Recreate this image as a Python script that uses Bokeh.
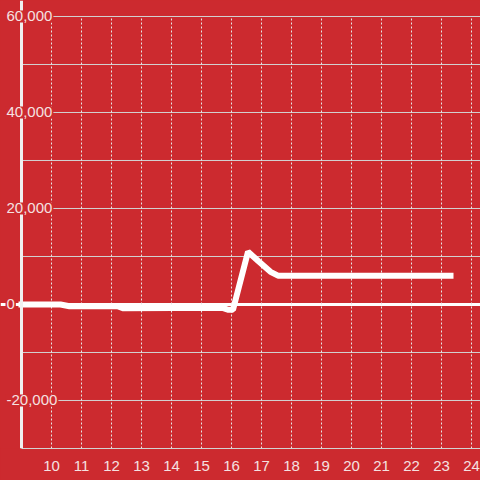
from bokeh.plotting import figure
from bokeh.models import Range1d, FixedTicker, Span, ColumnDataSource
from bokeh.core.properties import value
from bokeh.embed import file_html
from bokeh.resources import INLINE

# ---- data ----
times = [9.0, 10.3, 10.6, 12.2, 12.4, 15.7, 15.9, 16.05, 16.55, 16.9, 17.3, 17.55, 23.3]
values = [0, 0, -350, -350, -800, -700, -1100, -1100, 11000, 9000, 6800, 6000, 6000]
x_ticks = list(range(10, 25))
y_label_ticks = [60000, 40000, 20000, 0, -20000]
y_grid_ticks = [60000, 50000, 40000, 30000, 20000, 10000, -10000, -20000]
y_labels = [f"{v:,}" for v in y_label_ticks]

# ---- style ----
RED = "#cc2a2f"
TXT = "#f5e1e1"
GRID = "#d2d2d2"
FONT = "Liberation Sans"
X0, X1 = 8.3, 24.3
Y0, Y1 = -30000, 63333.3

p = figure(width=480, height=480, output_backend="svg", toolbar_location=None,
           x_range=Range1d(X0, X1), y_range=Range1d(Y0, Y1),
           y_axis_location=None, min_border_left=0, min_border_right=0,
           min_border_top=0, min_border_bottom=32)
p.background_fill_color = RED
p.border_fill_color = RED
p.outline_line_color = None
p.xgrid.visible = False
p.ygrid.visible = False

# horizontal grid lines, from the y axis to the right edge
p.segment(x0=[times[0]] * len(y_grid_ticks), x1=[X1] * len(y_grid_ticks),
          y0=y_grid_ticks, y1=y_grid_ticks, line_color=GRID, line_width=1)
# vertical dotted grid lines
p.segment(x0=x_ticks, x1=x_ticks, y0=[Y0] * len(x_ticks), y1=[max(y_grid_ticks)] * len(x_ticks),
          line_color="#e6e6e6", line_width=1, line_dash="2 2")

# zero line
p.add_layout(Span(location=0, dimension="width", line_color="white", line_width=3, level="underlay"))

# data line
p.line(times, values, line_color="white", line_width=6, line_cap="square")

# y axis line
p.add_layout(Span(location=times[0], dimension="height", line_color="#f0f0f0", line_width=3))

# y labels with red background
src = ColumnDataSource(dict(x=[X0] * len(y_label_ticks), y=y_label_ticks, t=y_labels))
p.text(x="x", y="y", text="t", source=src, x_offset=5, text_align="left",
       text_baseline="middle", text_color=TXT, text_font=value(FONT),
       text_font_size="15px", background_fill_color=RED, padding=1, level="overlay")

# x axis
xa = p.xaxis[0]
xa.ticker = FixedTicker(ticks=x_ticks)
xa.bounds = (times[0], X1)
xa.axis_line_color = GRID
xa.axis_line_width = 1
xa.major_tick_line_color = None
xa.minor_tick_line_color = None
xa.major_label_standoff = 6
xa.major_label_text_color = TXT
xa.major_label_text_font = FONT
xa.major_label_text_font_size = "15px"

template = """
{% block postamble %}
<style>html, body { margin: 0; padding: 0; background: #cc2a2f; overflow: hidden; }</style>
{% endblock %}
"""

open("out.html", "w").write(file_html(p, INLINE, title="chart", template=template))
